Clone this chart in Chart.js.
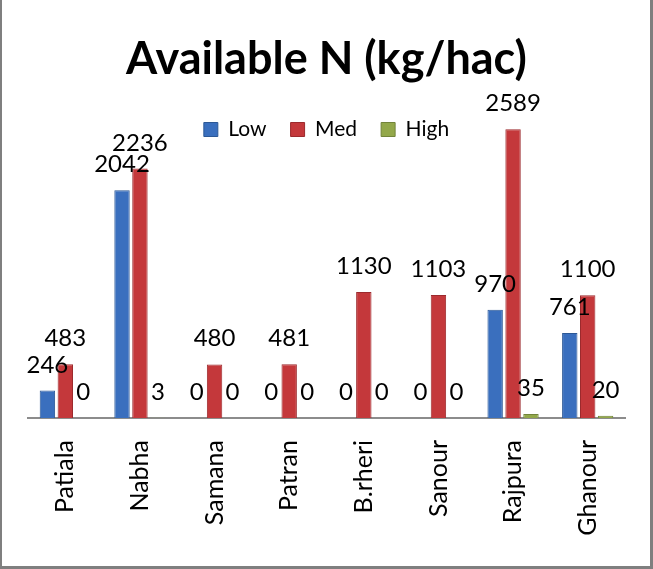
<!DOCTYPE html>
<html>
<head>
<meta charset="utf-8">
<title>Available N (kg/hac)</title>
<script src="https://cdn.jsdelivr.net/npm/chart.js@4.4.1/dist/chart.umd.min.js"></script>
<style>
  html, body { margin: 0; padding: 0; background: #fff; }
  #wrap { position: relative; width: 653px; height: 569px; }
  #frame {
    position: absolute; left: 0; top: 0; width: 653px; height: 569px;
    box-sizing: border-box; pointer-events: none;
    border-left: 2px solid #7f7f7f; border-right: 3px solid #7f7f7f; border-bottom: 3px solid #7f7f7f;
  }
</style>
</head>
<body>
<div id="wrap">
  <canvas id="nChart" width="653" height="569"></canvas>
  <div id="frame"></div>
</div>
<script>
// data
const categories = ['Patiala', 'Nabha', 'Samana', 'Patran', 'B.rheri', 'Sanour', 'Rajpura', 'Ghanour'];
const lowValues  = [246, 2042, 0, 0, 0, 0, 970, 761];
const medValues  = [483, 2236, 480, 481, 1130, 1103, 2589, 1100];
const highValues = [0, 3, 0, 0, 0, 0, 35, 20];
const seriesNames = ['Low', 'Med', 'High'];

const FONT = 'Lato';

// numbers above every bar
const barLabels = {
    id: 'barLabels',
    afterDatasetsDraw(chart) {
        const ctx = chart.ctx;
        ctx.save();
        ctx.font = '24px ' + FONT;
        ctx.fillStyle = '#000';
        ctx.textAlign = 'center';
        ctx.textBaseline = 'alphabetic';
        chart.data.datasets.forEach((ds, i) => {
            chart.getDatasetMeta(i).data.forEach((bar, j) => {
                ctx.fillText(String(ds.data[j]), bar.x, bar.y - 18);
            });
        });
        ctx.restore();
    }
};

// title and legend sit over the plot, like in the original
const placeBlocks = {
    id: 'placeBlocks',
    afterLayout(chart) {
        const move = (box, top) => {
            if (!box) return;
            const h = box.bottom - box.top;
            box.top = top;
            box.bottom = top + h;
        };
        move(chart.titleBlock, 27);
        move(chart.legend, 95);
    }
};

const ctx = document.getElementById('nChart').getContext('2d');

new Chart(ctx, {
    type: 'bar',
    data: {
        labels: categories,
        datasets: [
            { label: seriesNames[0], data: lowValues,  backgroundColor: '#3a6fbe', borderColor: '#2c5896', borderWidth: 1 },
            { label: seriesNames[1], data: medValues,  backgroundColor: '#c4383b', borderColor: '#9c2a2d', borderWidth: 1 },
            { label: seriesNames[2], data: highValues, backgroundColor: '#93a84a', borderColor: '#72843a', borderWidth: 1 }
        ]
    },
    options: {
        responsive: false,
        animation: false,
        datasets: {
            bar: { categoryPercentage: 0.72, barPercentage: 0.86 }
        },
        layout: { padding: { left: 28, right: 28, top: 0, bottom: 0 } },
        plugins: {
            title: {
                display: true,
                text: 'Available N (kg/hac)',
                color: '#000',
                font: { family: FONT, size: 45, weight: 'bold', lineHeight: 1 },
                padding: { top: 10, bottom: 18 }
            },
            legend: {
                display: true,
                position: 'top',
                labels: {
                    color: '#000',
                    font: { family: FONT, size: 21 },
                    boxWidth: 14,
                    boxHeight: 14,
                    padding: 24
                }
            },
            tooltip: { enabled: false }
        },
        scales: {
            x: {
                grid: { display: false, drawTicks: false },
                border: { display: true, color: '#8c8c8c', width: 2 },
                ticks: {
                    minRotation: 90,
                    maxRotation: 90,
                    padding: 22,
                    color: '#000',
                    font: { family: FONT, size: 25 }
                },
                afterFit: (scale) => { scale.height = 569 - 418; }
            },
            y: {
                display: false,
                min: 0,
                max: 2600
            }
        }
    },
    plugins: [barLabels, placeBlocks]
});
</script>
</body>
</html>
